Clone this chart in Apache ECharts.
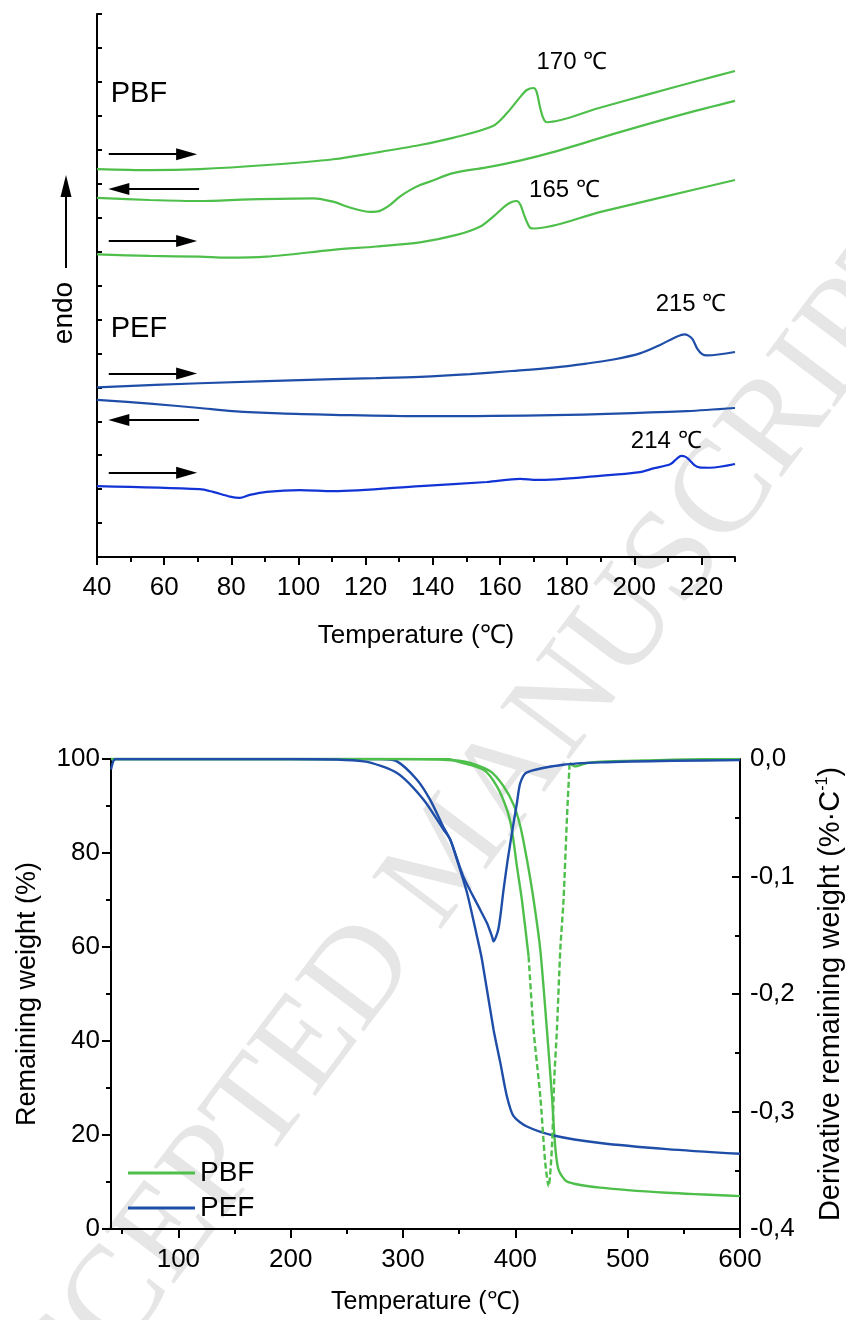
<!DOCTYPE html>
<html>
<head>
<meta charset="utf-8">
<script src="https://cdn.jsdelivr.net/npm/echarts@6/dist/echarts.min.js"></script>
<style>
  html, body { margin: 0; padding: 0; background: #ffffff; }
  #chart { width: 846px; height: 1320px; }
</style>
</head>
<body>
<div id="chart"></div>
<script>
// ---------- DSC traces: temperature (°C) and stacked heat-flow offset (a.u.) ----------
const pbf2ndHeatT = [40, 55.7, 70.6, 90.6, 110.4, 123.3, 136.2, 146, 157.9, 162.1, 166, 168, 170, 170.9, 171.9, 172.9, 173.9, 189.5, 204.4, 219.3, 230];
const pbf2ndHeat  = [11.43, 11.40, 11.43, 11.55, 11.72, 11.92, 12.14, 12.35, 12.70, 13.08, 13.55, 13.76, 13.82, 13.71, 13.27, 12.93, 12.81, 13.23, 13.64, 14.04, 14.32];

const pbfCoolT = [40, 55.7, 70.6, 85.5, 104.4, 110.3, 115.3, 121.3, 124.2, 127.2, 130.2, 133.2, 136.2, 139.1, 146, 156, 165.9, 175.8, 195.7, 215.7, 230];
const pbfCool  = [10.58, 10.52, 10.49, 10.54, 10.57, 10.47, 10.30, 10.17, 10.20, 10.37, 10.62, 10.81, 10.96, 11.06, 11.31, 11.48, 11.68, 11.93, 12.52, 13.08, 13.44];

const pbf1stHeatT = [40, 55.7, 70.6, 78.6, 90.5, 110.3, 123.3, 136.2, 147.1, 154.0, 158.0, 161.5, 163.5, 165, 166.1, 167, 168, 169, 170.2, 190, 210, 230];
const pbf1stHeat  = [8.92, 8.87, 8.85, 8.82, 8.85, 9.05, 9.15, 9.27, 9.49, 9.73, 10.03, 10.34, 10.46, 10.49, 10.38, 10.13, 9.88, 9.70, 9.68, 10.17, 10.64, 11.11];

const pef2ndHeatT = [40, 70.6, 110.4, 123.0, 136.2, 151.1, 163.5, 175.9, 185.8, 193.8, 201.7, 207.7, 212.6, 215, 216, 217.3, 218.7, 220.2, 221.7, 230];
const pef2ndHeat  = [5.00, 5.12, 5.24, 5.27, 5.31, 5.39, 5.48, 5.58, 5.70, 5.82, 6.00, 6.25, 6.49, 6.56, 6.53, 6.43, 6.15, 5.98, 5.94, 6.04];

const pefCoolT = [40, 55.7, 70.6, 80.4, 94.4, 110.4, 136.2, 175.8, 215.7, 230];
const pefCool  = [4.63, 4.52, 4.39, 4.30, 4.23, 4.19, 4.15, 4.18, 4.30, 4.39];

const pef1stHeatT = [40, 70.6, 74.5, 79.6, 82.5, 85.5, 90.5, 100.4, 110.4, 136.2, 156.1, 166, 171, 189.8, 201.7, 205.7, 210.7, 212.7, 214, 215.3, 216.4, 217.9, 219.4, 222.5, 230];
const pef1stHeat  = [2.09, 2.00, 1.92, 1.78, 1.74, 1.83, 1.92, 1.97, 1.94, 2.09, 2.21, 2.30, 2.27, 2.39, 2.50, 2.61, 2.73, 2.90, 2.98, 2.95, 2.86, 2.71, 2.64, 2.63, 2.74];

// scan-direction arrows (start, end) in temperature / offset units
const scanArrows = [
  [[43.5, 11.87], [66.7, 11.87]],
  [[70.4, 10.84], [46.5, 10.84]],
  [[43.5, 9.31],  [66.7, 9.31]],
  [[43.5, 5.41],  [66.7, 5.41]],
  [[70.4, 4.04],  [46.5, 4.04]],
  [[43.5, 2.48],  [66.7, 2.48]]
];

// peak annotations and sample names
const peakLabels   = ['170 ℃', '165 ℃', '215 ℃', '214 ℃'];
const peakLabelPos = [[181.4, 14.58], [179.2, 10.81], [216.9, 7.45], [209.5, 3.42]];
const sampleNames   = ['PBF', 'PEF'];
const sampleNamePos = [[44.1, 13.64], [44.1, 6.72]];

const dscMajorTicks = [40, 60, 80, 100, 120, 140, 160, 180, 200, 220];
const dscMinorTicks = [50, 70, 90, 110, 130, 150, 170, 190, 210, 230];

// ---------- TGA: remaining weight (%) and its derivative (%·C-1) ----------
const pbfTgaT = [40, 200, 300, 353.9, 377.7, 389.5, 398.4, 404.4, 410.3, 416.2, 422.2, 428.1, 432.6, 435.5, 438.5, 446, 475.6, 535, 600];
const pbfTga  = [100, 100, 100, 99.5, 97.4, 94.2, 90.3, 85.7, 78.6, 70.1, 59.4, 42.4, 28.1, 17.5, 12.6, 10.1, 8.8, 7.7, 7.0];

const pefTgaT = [40, 200, 280, 294.6, 312.4, 324.2, 335.8, 342.1, 348, 356.9, 365.8, 370.3, 380.6, 386.6, 392.5, 398.4, 410.3, 434, 475.6, 535, 600];
const pefTga  = [100, 100, 100, 99.5, 95.6, 91.3, 85.6, 82.8, 78.6, 71.6, 62.3, 57.3, 42.4, 35.4, 28.2, 24.0, 21.8, 19.9, 18.3, 17.0, 16.0];

const pbfDtgT = [40, 200, 340, 348, 371.7, 383.6, 392.5, 396.9, 401.4, 405.8, 411.8, 416.2, 422.2, 426.6, 429.6, 432.6, 434.6, 437, 440, 442.9, 446, 448.3, 453.3, 463.8, 472.6, 505, 540, 600];
const pbfDtg  = [0, 0, 0, -0.002, -0.0091, -0.0233, -0.0431, -0.0602, -0.0914, -0.1197, -0.168, -0.2304, -0.2871, -0.3436, -0.3637, -0.3297, -0.2729, -0.2304, -0.1623, -0.1197, -0.0489, -0.0034, -0.0063, -0.0034, -0.0025, -0.0015, -0.0005, 0];

const pefDtgT = [40, 42, 44, 200, 264.9, 294.6, 318.3, 336.1, 342.1, 353.6, 368.7, 374.7, 379.2, 380.6, 385, 389.5, 393.2, 397, 401.4, 404.4, 410.3, 442.6, 475.6, 540, 600];
const pefDtg  = [-0.009, -0.002, 0, 0, -0.002, -0.0119, -0.0346, -0.0602, -0.0687, -0.0999, -0.1283, -0.1396, -0.151, -0.1552, -0.1443, -0.1112, -0.0857, -0.0627, -0.0374, -0.0204, -0.0114, -0.0049, -0.0029, -0.0015, -0.001];

// temperature window where the PBF derivative trace is drawn dashed
const pbfDtgDashRange = [411.8, 448.3];

const tgaMajorTicks = [100, 200, 300, 400, 500, 600];
const tgaMinorTicks = [50, 150, 250, 350, 450, 550];

// ---------- styling ----------
const FONT = '"Liberation Sans", Arial, Helvetica, sans-serif';
const GREEN = '#4fbf4b';
const BLUE = '#1f4ea8';
const BRIGHT_BLUE = '#1234d6';
const BLACK = '#000000';

function pairs(xs, ys) { return xs.map((x, i) => [x, ys[i]]); }

const chart = echarts.init(document.getElementById('chart'), null, { renderer: 'canvas' });

function dscLine(name, xs, ys, color) {
  return {
    name: name, type: 'line', xAxisIndex: 0, yAxisIndex: 0,
    data: pairs(xs, ys), symbol: 'none', smooth: 0.3,
    lineStyle: { color: color, width: 2.2 }, itemStyle: { color: color }, silent: true
  };
}

function tgaLine(name, data, yIdx, color, dashed) {
  return {
    name: name, type: 'line', xAxisIndex: 2, yAxisIndex: yIdx,
    data: data, symbol: 'none', showSymbol: false, smooth: 0.25, connectNulls: false,
    lineStyle: { color: color, width: 2.4, type: dashed ? [6, 3] : 'solid' },
    itemStyle: { color: color }, silent: true
  };
}

const pbfDtgSolid = pbfDtgT.map((t, i) =>
  (t > pbfDtgDashRange[0] && t < pbfDtgDashRange[1]) ? [t, '-'] : [t, pbfDtg[i]]);
const pbfDtgDashed = pbfDtgT.map((t, i) =>
  (t >= pbfDtgDashRange[0] && t <= pbfDtgDashRange[1]) ? [t, pbfDtg[i]] : [t, '-']);

const tickLine = { color: BLACK, width: 2 };
const axisLine = { show: true, onZero: false, lineStyle: { color: BLACK, width: 2 } };
const labelStyle = { fontSize: 26, color: BLACK, fontFamily: FONT };
const plainText = { color: BLACK, fontFamily: FONT, textBorderWidth: 0, textShadowBlur: 0, opacity: 1 };

const option = {
  animation: false,
  backgroundColor: '#ffffff',
  grid: [
    { left: 97, right: 111, top: 14, bottom: 763, containLabel: false, outerBoundsMode: 'none' },
    { left: 111, right: 106, top: 759, bottom: 91, containLabel: false, outerBoundsMode: 'none' }
  ],
  xAxis: [
    {
      gridIndex: 0, type: 'value', position: 'bottom', min: 40, max: 230,
      axisLine: axisLine,
      axisTick: { show: true, length: 8, lineStyle: tickLine, customValues: dscMajorTicks },
      axisLabel: Object.assign({ show: true, margin: 18, customValues: dscMajorTicks }, labelStyle),
      splitLine: { show: false },
      name: 'Temperature (℃)', nameLocation: 'middle', nameGap: 66,
      nameTextStyle: { fontSize: 26, color: BLACK, fontFamily: FONT }
    },
    {
      gridIndex: 0, type: 'value', position: 'bottom', min: 40, max: 230,
      axisLine: { show: false },
      axisTick: { show: true, length: 5, lineStyle: tickLine, customValues: dscMinorTicks },
      axisLabel: { show: false }, splitLine: { show: false }
    },
    {
      gridIndex: 1, type: 'value', position: 'bottom', min: 40, max: 600,
      axisLine: axisLine,
      axisTick: { show: true, length: 9, lineStyle: tickLine, customValues: tgaMajorTicks },
      axisLabel: Object.assign({ show: true, margin: 18, customValues: tgaMajorTicks }, labelStyle),
      splitLine: { show: false },
      name: 'Temperature (℃)', nameLocation: 'middle', nameGap: 61,
      nameTextStyle: { fontSize: 25, color: BLACK, fontFamily: FONT }
    },
    {
      gridIndex: 1, type: 'value', position: 'bottom', min: 40, max: 600,
      axisLine: { show: false },
      axisTick: { show: true, length: 5, lineStyle: tickLine, customValues: tgaMinorTicks },
      axisLabel: { show: false }, splitLine: { show: false }
    }
  ],
  yAxis: [
    {
      gridIndex: 0, type: 'value', position: 'left', min: 0, max: 16, interval: 1,
      axisLine: axisLine,
      axisTick: { show: true, inside: true, length: 5, lineStyle: tickLine },
      axisLabel: { show: false }, splitLine: { show: false }
    },
    {
      gridIndex: 1, type: 'value', position: 'left', min: 0, max: 100, interval: 20,
      axisLine: axisLine,
      axisTick: { show: true, length: 9, lineStyle: tickLine },
      minorTick: { show: true, splitNumber: 2, length: 5, lineStyle: tickLine },
      axisLabel: Object.assign({ show: true, margin: 11 }, labelStyle),
      splitLine: { show: false }, minorSplitLine: { show: false },
      name: 'Remaining weight (%)', nameLocation: 'middle', nameRotate: 90, nameGap: 70,
      nameTextStyle: { fontSize: 27, color: BLACK, fontFamily: FONT }
    },
    {
      gridIndex: 1, type: 'value', position: 'right', min: -0.4, max: 0, interval: 0.1,
      axisLine: axisLine,
      axisTick: { show: true, inside: true, length: 8, lineStyle: tickLine },
      minorTick: { show: true, splitNumber: 2, length: 5, lineStyle: tickLine },
      axisLabel: Object.assign({
        show: true, margin: 10,
        formatter: v => (Math.abs(v) < 1e-9 ? '0,0' : v.toFixed(1).replace('.', ','))
      }, labelStyle),
      splitLine: { show: false }, minorSplitLine: { show: false },
      name: 'Derivative remaining weight (%·C{sup|-1})', nameLocation: 'middle', nameRotate: 90, nameGap: 75,
      nameTextStyle: {
        fontSize: 29, color: BLACK, fontFamily: FONT, lineHeight: 32,
        rich: { sup: { fontSize: 16, color: BLACK, fontFamily: FONT, verticalAlign: 'top', lineHeight: 32 } }
      }
    }
  ],
  legend: {
    data: ['PBF', 'PEF'], orient: 'vertical', left: 123, top: 1153,
    icon: 'rect', itemWidth: 67, itemHeight: 3, itemGap: 5,
    textStyle: { fontSize: 28, color: BLACK, fontFamily: FONT, lineHeight: 30 },
    selectedMode: false
  },
  graphic: [
    {
      type: 'text', x: 452, y: 857, rotation: 53 * Math.PI / 180, z: -1, silent: true,
      style: {
        text: 'ACCEPTED MANUSCRIPT', fontSize: 132, fontFamily: '"Liberation Serif", "Times New Roman", serif',
        fill: '#e6e6e6', align: 'center', verticalAlign: 'middle'
      }
    },
    {
      type: 'text', x: 64, y: 313, rotation: Math.PI / 2, silent: true,
      style: { text: 'endo', fontSize: 28, fontFamily: FONT, fill: BLACK, align: 'center', verticalAlign: 'middle' }
    },
    { type: 'line', silent: true, shape: { x1: 66, y1: 268, x2: 66, y2: 192 }, style: { stroke: BLACK, lineWidth: 2 } },
    { type: 'polygon', silent: true, shape: { points: [[66, 175], [60.5, 197], [71.5, 197]] }, style: { fill: BLACK } }
  ],
  series: [
    dscLine('PBF 2nd heating', pbf2ndHeatT, pbf2ndHeat, GREEN),
    dscLine('PBF cooling', pbfCoolT, pbfCool, GREEN),
    dscLine('PBF 1st heating', pbf1stHeatT, pbf1stHeat, GREEN),
    dscLine('PEF 2nd heating', pef2ndHeatT, pef2ndHeat, BLUE),
    dscLine('PEF cooling', pefCoolT, pefCool, BLUE),
    dscLine('PEF 1st heating', pef1stHeatT, pef1stHeat, BRIGHT_BLUE),
    {
      name: 'scan direction', type: 'lines', coordinateSystem: 'cartesian2d', xAxisIndex: 0, yAxisIndex: 0,
      data: scanArrows.map(c => ({ coords: c })),
      symbol: ['none', 'triangle'], symbolSize: [0, [12, 21]],
      lineStyle: { color: BLACK, width: 2, opacity: 1 }, silent: true
    },
    {
      name: 'annotations', type: 'scatter', xAxisIndex: 0, yAxisIndex: 0,
      symbolSize: 1, itemStyle: { color: 'rgba(255,255,255,0)', opacity: 1 }, silent: true,
      data: peakLabels.map((t, i) => ({
        value: peakLabelPos[i], name: t,
        label: Object.assign({ show: true, formatter: '{b}', position: 'inside', fontSize: 24 }, plainText)
      })).concat(sampleNames.map((t, i) => ({
        value: sampleNamePos[i], name: t,
        label: Object.assign({ show: true, formatter: '{b}', position: 'inside', align: 'left', fontSize: 29 }, plainText)
      })))
    },
    tgaLine('PBF', pairs(pbfTgaT, pbfTga), 1, GREEN, false),
    tgaLine('PEF', pairs(pefTgaT, pefTga), 1, BLUE, false),
    tgaLine('PBF', pbfDtgSolid, 2, GREEN, false),
    tgaLine('PBF', pbfDtgDashed, 2, GREEN, true),
    tgaLine('PEF', pairs(pefDtgT, pefDtg), 2, BLUE, false)
  ]
};

chart.setOption(option);
</script>
</body>
</html>
